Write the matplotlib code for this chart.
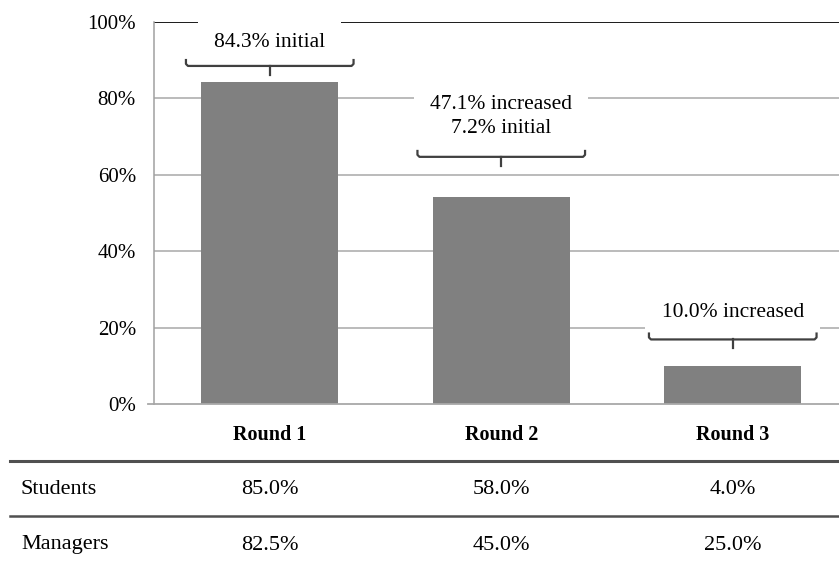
import numpy as np
import matplotlib as mpl
mpl.use('Agg')
import matplotlib.pyplot as plt
from matplotlib.transforms import blended_transform_factory

# share of respondents per round (percent)
rounds = ['Round 1', 'Round 2', 'Round 3']
initial = [84.3, 7.2, 0.0]
increased = [0.0, 47.1, 10.0]
students = [85.0, 58.0, 4.0]
managers = [82.5, 45.0, 25.0]

# callout layout: distance of label and brace above each bar (percent points)
label_gap = [10.3, 21.0, 14.0]
brace_gap = [4.2, 10.4, 6.9]

plt.rcParams['font.family'] = ['Liberation Serif', 'DejaVu Serif']

W, H = 839, 566
fig = plt.figure(figsize=(W / 100.0, H / 100.0), dpi=100)
# plot area runs a little past the right edge of the figure
ax = fig.add_axes([154.0 / W, 1 - 404.0 / H, 694.5 / W, 382.0 / H])

x = np.arange(len(rounds))
total = np.array(initial) + np.array(increased)

ax.bar(x, total, width=0.59, color='#808080', zorder=2)

ax.set_xlim(-0.5, 2.5)
ax.set_ylim(0, 100)
ax.set_yticks([0, 20, 40, 60, 80, 100])
ax.set_yticklabels(['%d%%' % v for v in range(0, 101, 20)])
ax.tick_params(axis='y', length=0, pad=13, labelsize=15)
ax.set_xticks(x)
ax.set_xticklabels(rounds, fontweight='bold', fontsize=14.5)
ax.tick_params(axis='x', length=0, pad=15)

# gridlines, top line drawn darker
for v in [20, 40, 60, 80]:
    ax.axhline(v, color='#a8a8a8', lw=1.1, zorder=0)
ax.axhline(100, color='#1a1a1a', lw=1.4, zorder=0)
for s in ['top', 'right']:
    ax.spines[s].set_visible(False)
ax.spines['left'].set_color('#a0a0a0')
ax.spines['bottom'].set_color('#a8a8a8')
ax.spines['left'].set_linewidth(1.1)
ax.spines['bottom'].set_linewidth(1.3)
ax.plot([-0.5 - 6 / 231.5, -0.5], [0, 0], color='#a8a8a8', lw=1.3, clip_on=False)

# callouts with braces
px_y = 100.0 / 382.0   # one pixel in percent
px_x = 3.0 / 694.5     # one pixel in category units
for i in range(len(rounds)):
    parts = []
    if increased[i] > 0:
        parts.append('%.1f%% increased' % increased[i])
    if initial[i] > 0:
        parts.append('%.1f%% initial' % initial[i])
    ax.text(x[i], total[i] + label_gap[i], '\n'.join(parts), ha='center', va='center',
            fontsize=15.5, linespacing=1.35, zorder=5,
            bbox=dict(boxstyle='square,pad=0.75', fc='white', ec='none'))

    yb = total[i] + brace_gap[i]
    half = 0.362
    cu = 7 * px_y
    r = 2 * px_y
    rx = 2 * px_x
    xs = [x[i] - half, x[i] - half, x[i] - half + rx, x[i] + half - rx, x[i] + half, x[i] + half]
    ys = [yb + cu, yb + r, yb, yb, yb + r, yb + cu]
    ax.plot(xs, ys, color='#404040', lw=1.6, zorder=6, solid_capstyle='butt')
    ax.plot([x[i], x[i]], [yb, yb - 9 * px_y], color='#404040', lw=1.6, zorder=6)

# table of group results under the chart
trans = blended_transform_factory(ax.transData, fig.transFigure)
rows = [('Students', students, 1 - 489.0 / H), ('Managers', managers, 1 - 545.0 / H)]
for name, vals, yy in rows:
    fig.text(21.0 / W, yy, name, ha='left', va='center', fontsize=16)
    for i, v in enumerate(vals):
        ax.text(x[i], yy, '%.1f%%' % v, transform=trans, ha='center', va='center',
                fontsize=16, clip_on=False)

for yy, lw in [(1 - 461.0 / H, 2.2), (1 - 516.0 / H, 1.8)]:
    fig.add_artist(plt.Line2D([10.0 / W, 1.0], [yy, yy], color='#505050', lw=lw,
                              transform=fig.transFigure))

fig.savefig('out.png', dpi=100)
